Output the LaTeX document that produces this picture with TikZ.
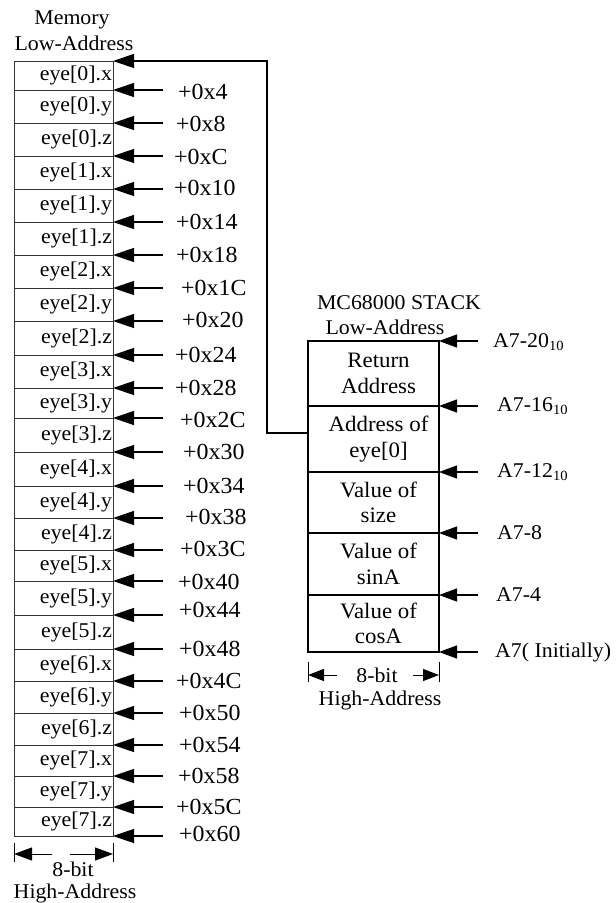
\documentclass[tikz,border=0pt]{standalone}
\usepackage{fontspec}
\setmainfont[FakeStretch=1.04]{Liberation Serif}
\usetikzlibrary{arrows.meta}
\begin{document}
\begin{tikzpicture}[x=1pt,y=-1pt,
  cell/.style={draw=black!80, line width=0.9pt, inner sep=0pt, outer sep=0pt, minimum width=99pt, text width=97pt, align=right, font=\fontsize{21}{22}\selectfont},
  sbox/.style={draw, line width=1.2pt, inner sep=0pt, outer sep=0pt, minimum width=131pt},
  stext/.style={align=center, inner sep=0pt, font=\fontsize{22}{25.5}\selectfont},
  arr/.style={-{Triangle[length=21pt,width=14pt]}, line width=1.2pt},
  sarr/.style={-{Triangle[length=18pt,width=13pt]}, line width=1.2pt},
  darr/.style={-{Triangle[length=18pt,width=13pt]}, line width=1pt},
  off/.style={anchor=west, inner sep=0pt, font=\fontsize{23}{24}\selectfont},
  alab/.style={anchor=west, inner sep=0pt, font=\fontsize{21}{22}\selectfont},
  ttl/.style={inner sep=0pt, font=\fontsize{21}{22}\selectfont},
  bar/.style={line width=1pt}
]
\useasboundingbox (0,0) rectangle (616,903);

% memory column
\foreach \top/\bot/\txt/\lab/\lx/\ly [count=\i] in {
  61/90/{eye[0].x}/4/178/92,
  90/123/{eye[0].y}/8/176/124,
  123/156/{eye[0].z}/C/174/157,
  156/189/{eye[1].x}/10/174/188,
  189/222/{eye[1].y}/14/176/222,
  222/255/{eye[1].z}/18/176/255,
  255/288/{eye[2].x}/1C/181/288,
  288/321/{eye[2].y}/20/182/320,
  321/355/{eye[2].z}/24/175/355,
  355/388/{eye[3].x}/28/175/388,
  388/418/{eye[3].y}/2C/180/420,
  418/452/{eye[3].z}/30/183/452,
  452/486/{eye[4].x}/34/183/486,
  486/518/{eye[4].y}/38/185/517,
  518/550/{eye[4].z}/3C/180/549,
  550/581/{eye[5].x}/40/178/582,
  581/615/{eye[5].y}/44/179/610,
  615/649/{eye[5].z}/48/179/649,
  649/681/{eye[6].x}/4C/176/681,
  681/713/{eye[6].y}/50/179/713,
  713/745/{eye[6].z}/54/179/745,
  745/776/{eye[7].x}/58/178/776,
  776/807/{eye[7].y}/5C/176/807,
  807/836/{eye[7].z}/60/179/834}
{
  \node[cell, minimum height={\bot-\top}] (c\i) at (63.5,{(\top+\bot)/2}) {\txt};
  \coordinate (s\i) at (163,\bot);
  \draw[arr] (s\i) -- (c\i.south east);
  \node[off] (l\i) at (\lx,\ly) {+0x\lab};
}

\node[ttl] (memt) at (72,20) {Memory};
\node[ttl] (meml) at (74,43) {Low-Address};

% memory width dimension
\coordinate (mb1) at (14,843);
\coordinate (mb2) at (14,862);
\coordinate (mb3) at (113,843);
\coordinate (mb4) at (113,862);
\draw[bar] (mb1) -- (mb2);
\draw[bar] (mb3) -- (mb4);
\coordinate (ma0) at (14,854);
\coordinate (ma1) at (52,854);
\coordinate (ma2) at (70,854);
\coordinate (ma3) at (113,854);
\draw[darr] (ma1) -- (ma0);
\draw[darr] (ma2) -- (ma3);
\node[ttl] (m8) at (73,869) {8-bit};
\node[ttl] (mh) at (75,893) {High-Address};

% stack
\foreach \top/\bot/\txt [count=\i] in {
  341/406/{Return\\Address},
  406/472/{Address of\\eye[0]},
  472/533/{Value of\\size},
  533/595/{Value of\\sinA},
  595/652/{Value of\\cosA}}
{
  \node[sbox, minimum height={\bot-\top}] (st\i) at (373.5,{(\top+\bot)/2}) {};
  \node[stext] (tx\i) at ([xshift=5pt]st\i.center) {\txt};
}
\node[ttl] (stt) at (399,303) {MC68000 STACK};
\node[ttl] (stl) at (385,327) {Low-Address};

\newcommand{\tensub}{{\fontsize{14}{14}\selectfont\raisebox{-3pt}{10}}}
\coordinate (sa0) at (478,341);
\coordinate (sa1) at (478,406);
\coordinate (sa2) at (478,472);
\coordinate (sa3) at (478,533);
\coordinate (sa4) at (478,595);
\coordinate (sa5) at (478,652);
\draw[sarr] (sa0) -- (st1.north east);
\draw[sarr] (sa1) -- (st1.south east);
\draw[sarr] (sa2) -- (st2.south east);
\draw[sarr] (sa3) -- (st3.south east);
\draw[sarr] (sa4) -- (st4.south east);
\draw[sarr] (sa5) -- (st5.south east);
\node[alab] (sl0) at (493,342) {A7-20\tensub};
\node[alab] (sl1) at (497,406) {A7-16\tensub};
\node[alab] (sl2) at (497,472) {A7-12\tensub};
\node[alab] (sl3) at (497,533) {A7-8};
\node[alab] (sl4) at (496,595) {A7-4};
\node[alab] (sl5) at (495,652) {A7( Initially)};

% stack width dimension
\coordinate (sb1) at (308,662);
\coordinate (sb2) at (308,682);
\coordinate (sb3) at (439,662);
\coordinate (sb4) at (439,682);
\draw[bar] (sb1) -- (sb2);
\draw[bar] (sb3) -- (sb4);
\coordinate (sd0) at (308,675);
\coordinate (sd1) at (337,675);
\coordinate (sd2) at (413,675);
\coordinate (sd3) at (439,675);
\draw[darr, -{Triangle[length=16pt,width=12pt]}] (sd1) -- (sd0);
\draw[darr, -{Triangle[length=16pt,width=12pt]}] (sd2) -- (sd3);
\node[ttl] (s8) at (377,675) {8-bit};
\node[ttl] (sh) at (380,700) {High-Address};

% pointer connector
\draw[arr] ([yshift=6pt]st2.west) -- ++(-41,0) |- (c1.north east);
\end{tikzpicture}
\end{document}
